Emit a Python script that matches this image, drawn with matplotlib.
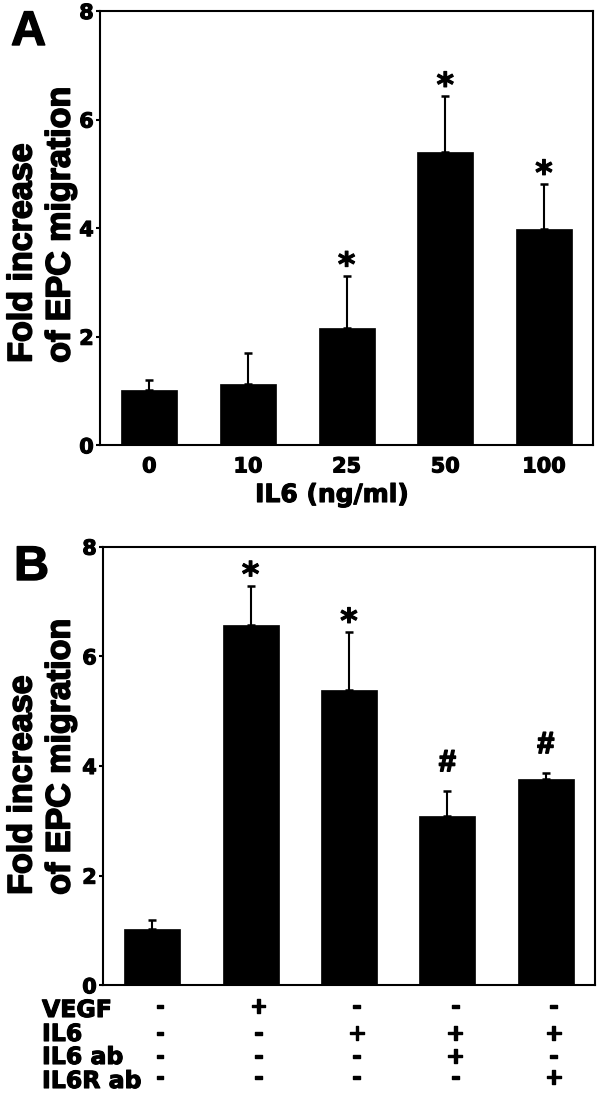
import numpy as np
import matplotlib
matplotlib.use("Agg")
import matplotlib.pyplot as plt
import matplotlib.patheffects as pe
from matplotlib import font_manager
from matplotlib.font_manager import FontProperties
from matplotlib.transforms import blended_transform_factory

# panel A: IL6 dose response
doses = ["0", "10", "25", "50", "100"]
a_mean = [1.02, 1.13, 2.16, 5.40, 3.98]
a_err = [0.18, 0.57, 0.96, 1.03, 0.83]
a_marks = ["", "", "*", "*", "*"]

# panel B: treatments
b_mean = [1.02, 6.57, 5.39, 3.09, 3.76]
b_err = [0.17, 0.72, 1.05, 0.46, 0.12]
b_marks = ["", "*", "*", "#", "#"]
row_names = ["VEGF", "IL6", "IL6 ab", "IL6R ab"]
vegf = ["-", "+", "-", "-", "-"]
il6 = ["-", "-", "+", "+", "+"]
il6_ab = ["-", "-", "-", "+", "-"]
il6r_ab = ["-", "-", "-", "-", "+"]

W, H = 601, 1096
fig = plt.figure(figsize=(W / 100, H / 100), dpi=100)

BOLD = "DejaVu Sans"


def heavy(lw):
    # thicken glyphs a little, the scanned figure is very heavy
    return [pe.withStroke(linewidth=lw, foreground="black")]


def arial_bold(size):
    # pick the Liberation Sans Bold file directly, fall back to DejaVu bold
    for f in font_manager.fontManager.ttflist:
        if f.name == "Liberation Sans" and f.weight in (700, "bold") and f.style == "normal":
            return FontProperties(fname=f.fname, size=size)
    return FontProperties(family=BOLD, weight="bold", size=size)


def fx(px):
    return px / W


def fy(px):
    return 1 - px / H


def draw_panel(ax, means, errs, marks):
    x = np.arange(len(means))
    ax.bar(x, means, width=0.57, color="black", edgecolor="black", linewidth=0.5, zorder=2)
    ax.errorbar(x, means, yerr=[np.zeros(len(errs)), errs], fmt="none",
                ecolor="black", elinewidth=1.5, capsize=3.2, capthick=1.8, zorder=1)
    for xi, m, e, mk in zip(x, means, errs, marks):
        if not mk:
            continue
        if mk == "*":
            ax.annotate(mk, (xi, m + e), xytext=(0, -5), textcoords="offset points",
                        ha="center", va="bottom", fontsize=24, fontweight="bold",
                        family=BOLD, path_effects=heavy(0.8))
        else:
            ax.annotate(mk, (xi, m + e), xytext=(0, 9), textcoords="offset points",
                        ha="center", va="bottom", fontproperties=arial_bold(22),
                        path_effects=heavy(1.2))
    ax.set_xlim(-0.5, 4.5)
    ax.set_ylim(0, 8)
    ax.set_yticks([0, 2, 4, 6, 8])
    for sp in ax.spines.values():
        sp.set_linewidth(1.5)
    ax.tick_params(axis="y", length=3, width=1.5, pad=1.5, labelsize=15)
    ax.tick_params(axis="x", length=0, pad=8, labelsize=15)
    for lab in ax.get_yticklabels() + ax.get_xticklabels():
        lab.set_fontweight("bold")
        lab.set_family(BOLD)
        lab.set_path_effects(heavy(0.8))


ylab = "Fold increase\nof EPC migration"

# --- panel A
axA = fig.add_axes([fx(100), fy(445.3), fx(593.3) - fx(100), fy(11) - fy(445.3)])
draw_panel(axA, a_mean, a_err, a_marks)
axA.set_xticks(np.arange(len(doses)))
axA.set_xticklabels(doses, fontweight="bold", family=BOLD, fontsize=15)
for lab in axA.get_xticklabels():
    lab.set_path_effects(heavy(0.8))
fig.text(fx(332), fy(502), "IL6 (ng/ml)", ha="center", va="baseline",
         fontsize=18, fontweight="bold", family=BOLD, path_effects=heavy(0.8))
fig.text(fx(42), fy(225), ylab, rotation=90, ha="center", va="center",
         multialignment="left", linespacing=1.3, fontproperties=arial_bold(24.5),
         path_effects=heavy(1.2))
fig.text(fx(11), fy(45), "A", ha="left", va="baseline", fontproperties=arial_bold(35),
         path_effects=heavy(1.0))

# --- panel B
axB = fig.add_axes([fx(103), fy(985.3), fx(595) - fx(103), fy(546.7) - fy(985.3)])
draw_panel(axB, b_mean, b_err, b_marks)
axB.set_xticks([])
fig.text(fx(42), fy(757), ylab, rotation=90, ha="center", va="center",
         multialignment="left", linespacing=1.3, fontproperties=arial_bold(24.5),
         path_effects=heavy(1.2))
fig.text(fx(14), fy(580), "B", ha="left", va="baseline", fontproperties=arial_bold(35),
         path_effects=heavy(1.0))

label_base = [1017, 1041, 1064, 1088]
sign_base = [1013, 1040, 1063, 1084]
rows = [vegf, il6, il6_ab, il6r_ab]
trans = blended_transform_factory(axB.transData, fig.transFigure)
for name, signs, lb, sb in zip(row_names, rows, label_base, sign_base):
    fig.text(fx(42), fy(lb), name, ha="left", va="baseline", fontsize=17,
             fontweight="bold", family=BOLD, path_effects=heavy(0.8))
    for i, s in enumerate(signs):
        axB.text(i + 0.08, fy(sb), s, transform=trans, ha="center", va="baseline",
                 fontsize=16, fontweight="bold", family=BOLD, clip_on=False,
                 path_effects=heavy(1.0))

fig.savefig("out.png", dpi=100)
